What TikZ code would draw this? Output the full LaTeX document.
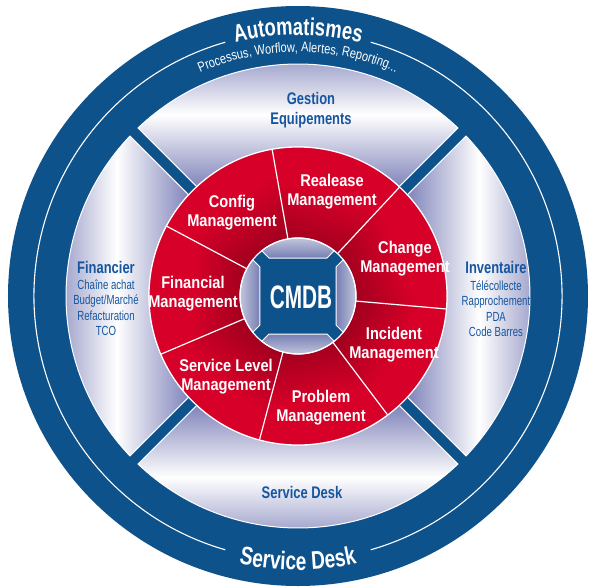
\documentclass[tikz,border=0pt]{standalone}
\usepackage{fontspec}
\setmainfont{Liberation Sans}[FakeStretch=0.8]
\newfontfamily\bigfont{Liberation Sans}[FakeStretch=0.75]
\newfontfamily\cmdbfont{Liberation Sans}[FakeStretch=0.64]
\newfontfamily\redfont{Liberation Sans}[FakeStretch=0.86]
\newfontfamily\listfont{Liberation Sans}[FakeStretch=0.73]
\newfontfamily\titlefont{Liberation Sans}[FakeStretch=0.77]
\usetikzlibrary{decorations.text}

\definecolor{ringblue}{RGB}{14,82,140}
\definecolor{itilred}{RGB}{214,0,40}
\definecolor{itildark}{RGB}{158,0,30}
\definecolor{lavender}{RGB}{128,132,186}
\definecolor{textblue}{RGB}{22,86,160}
\definecolor{hubgray}{RGB}{210,213,230}
\definecolor{hubdark}{RGB}{118,126,178}

\begin{document}
\begin{tikzpicture}[x=1pt,y=1pt,
  redlabel/.style={text=white, font=\redfont\bfseries\fontsize{17}{19}\selectfont, align=center, inner sep=0pt},
  graytitle/.style={text=textblue, font=\titlefont\bfseries\fontsize{16.8}{19.5}\selectfont, align=center, inner sep=0pt},
  graylist/.style={text=textblue, font=\listfont\fontsize{13.2}{15.5}\selectfont, align=center, inner sep=0pt},
  outline/.style={draw=white, line width=1pt},
  divider/.style={white, line width=1.2pt}
]
\useasboundingbox (-298,-291) rectangle (291,296);

% outer blue ring
\fill[ringblue] (0,0) circle[radius=290];
\draw[white, line width=1.1pt] (-74:264) arc[start angle=-74, end angle=74, radius=264];
\draw[white, line width=1.1pt] (106:264) arc[start angle=106, end angle=254, radius=264];

% four grey quadrants separated by blue bars
\foreach \r in {0,90,180,270} {
  \shade[outline, rotate=\r, left color=lavender, right color=lavender, middle color=white, shading angle=\r]
    (46.41:232) arc[start angle=46.41, end angle=133.59, radius=232]
    -- (132.81:149) arc[start angle=132.81, end angle=47.19, radius=149] -- cycle;
}

% red process ring
\foreach \a/\b in {47/100, 100/152, 152/203, 203/255, 255/307, 307/355, 355/407} {
  \pgfmathsetmacro\m{(\a+\b)/2-90}
  \shade[left color=itilred, right color=itildark, middle color=itilred, shading angle=\m]
    (\a:149) arc[start angle=\a, end angle=\b, radius=149]
    -- (\b:58) arc[start angle=\b, end angle=\a, radius=58] -- cycle;
}
\foreach \a in {47,100,152,203,255,307,355}
  \draw[divider] (\a:58) -- (\a:149);
\draw[divider] (0,0) circle[radius=149];

% CMDB hub
\fill[ringblue] (0,0) circle[radius=58];
\foreach \r in {0,90,180,270} {
  \shade[outline, rotate=\r, left color=hubgray, right color=hubdark, shading angle=\r]
    (-29,38) -- (29,38) -- (51.3:58) arc[start angle=51.3, end angle=128.7, radius=58] -- cycle;
}
\draw[divider] (0,0) circle[radius=58];
\node[anchor=base, text=white, font=\cmdbfont\bfseries\fontsize{32.5}{34}\selectfont, inner sep=0pt] (cmdb) at (3,-12) {CMDB};

% process labels
\node[redlabel] (release)  at (34,104.4)  {Realease\\Management};
\node[redlabel] (config)   at (-66,83.4)  {Config\\Management};
\node[redlabel] (change)   at (107,37.4)  {Change\\Management};
\node[redlabel] (financial) at (-105,2)   {Financial\\Management};
\node[redlabel] (incident) at (96,-48.6)  {Incident\\Management};
\node[redlabel] (slm)      at (-72,-81.1) {Service Level\\Management};
\node[redlabel] (problem)  at (23,-111.6) {Problem\\Management};

% quadrant labels
\node[graytitle] (gestion) at (13,186) {Gestion\\Equipements};
\node[graytitle, anchor=base] (financier) at (-192,23) {Financier};
\node[graylist] (finlist) at (-192,-11.7) {Chaîne achat\\Budget/Marché\\Refacturation\\TCO};
\node[graytitle, anchor=base] (inventaire) at (198,23) {Inventaire};
\node[graylist] (invlist) at (198,-12.8) {Télécollecte\\Rapprochement\\PDA\\Code Barres};
\node[graytitle, anchor=base] (desk) at (4,-202) {Service Desk};

% titles along the outer ring
\path[decorate, decoration={text along path, text align=center, text color=white,
  text={|\bigfont\bfseries\fontsize{24.5}{25}\selectfont|Automatismes}}]
  (130:261) arc[start angle=130, end angle=50, radius=261];
\path[decorate, decoration={text along path, text align=center, text color=white,
  text={|\fontsize{13.8}{14}\selectfont|Processus, Worflow, Alertes, Reporting...}}]
  (140:244) arc[start angle=140, end angle=40, radius=244];
\path[decorate, decoration={text along path, text align=center, text color=white,
  text={|\bigfont\bfseries\fontsize{25.5}{26}\selectfont|Service Desk}}]
  (230:274) arc[start angle=230, end angle=310, radius=274];
\end{tikzpicture}
\end{document}
